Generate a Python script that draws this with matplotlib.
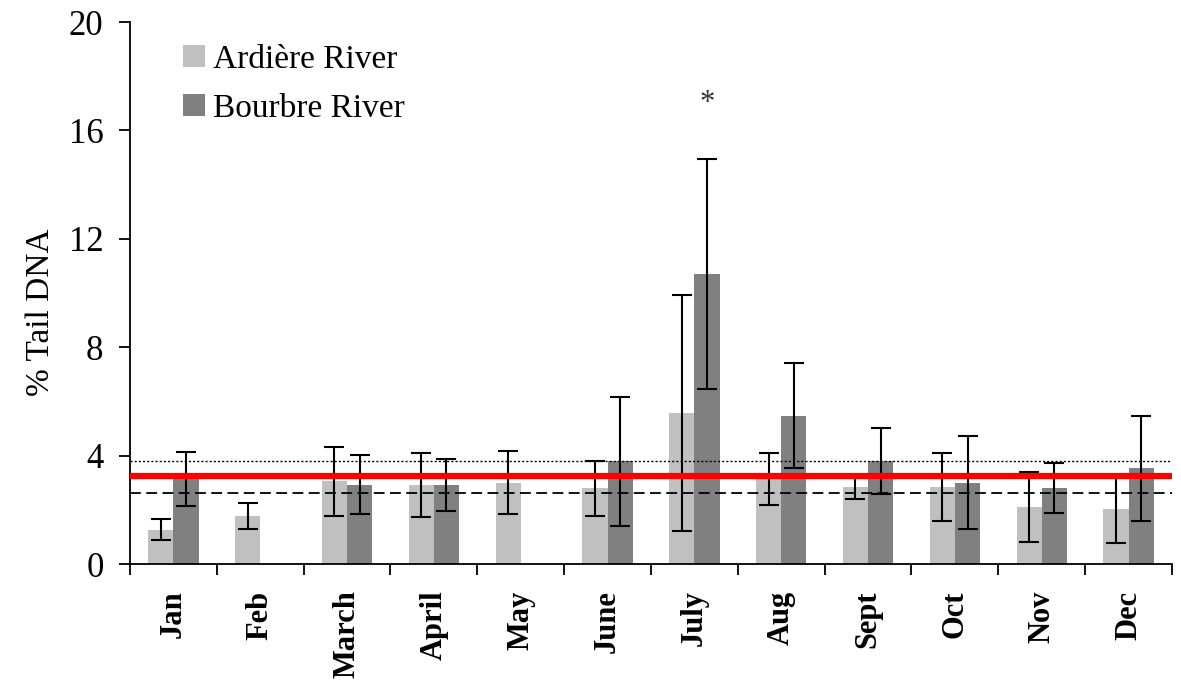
import numpy as np
import matplotlib
matplotlib.use("Agg")
import matplotlib.pyplot as plt
from matplotlib.patches import Patch

months = ["Jan", "Feb", "March", "April", "May", "June", "July", "Aug", "Sept", "Oct", "Nov", "Dec"]
ardiere = [1.27, 1.76, 3.06, 2.93, 3.0, 2.79, 5.56, 3.15, 2.85, 2.85, 2.1, 2.03]
ardiere_err = [0.38, 0.48, 1.27, 1.18, 1.17, 1.03, 4.35, 0.96, 0.45, 1.25, 1.28, 1.27]
bourbre = [3.14, np.nan, 2.93, 2.93, np.nan, 3.8, 10.71, 5.47, 3.8, 3.0, 2.79, 3.53]
bourbre_err = [1.0, np.nan, 1.1, 0.96, np.nan, 2.38, 4.24, 1.93, 1.23, 1.72, 0.92, 1.94]
red_line = 3.25
dotted_line = 3.8
dashed_line = 2.62
star_month = 6
star_y = 17.0

plt.rcParams['font.family'] = ['Liberation Serif', 'DejaVu Serif']

fig = plt.figure(figsize=(11.81, 6.84), dpi=100)
ax = fig.add_axes([0.110, 0.1754, 0.8824, 0.7924])

x = np.arange(len(months))
w = 0.29
ax.bar(x - w / 2, ardiere, w, color="#c0c0c0", zorder=2)
ax.bar(x + w / 2, bourbre, w, color="#808080", zorder=2)
ax.errorbar(x - w / 2, ardiere, yerr=ardiere_err, fmt="none", ecolor="black",
            elinewidth=1.5, capsize=7, capthick=1.5, zorder=3)
ax.errorbar(x + w / 2, bourbre, yerr=bourbre_err, fmt="none", ecolor="black",
            elinewidth=1.5, capsize=7, capthick=1.5, zorder=3)

ax.axhline(dotted_line, color="black", lw=1.0, linestyle=(0, (1.5, 1.5)), zorder=4)
ax.axhline(dashed_line, color="black", lw=1.3, linestyle=(0, (6, 3)), zorder=4)
ax.axhline(red_line, color="#ff0000", lw=4.5, zorder=5)

ax.text(star_month + w / 2, star_y, "*", ha="center", va="center", fontsize=22,
        color="#333333")

ax.set_xlim(-0.5, 11.5)
ax.set_ylim(0, 20)
ax.set_yticks([0, 4, 8, 12, 16, 20])
ax.tick_params(axis="y", labelsize=25, length=8, width=1.3, direction="out", pad=11)
ax.set_xticks(x)
ax.set_xticklabels(months, rotation=90, fontsize=22, fontweight="bold")
ax.tick_params(axis="x", which="major", length=0, pad=19)
ax.set_xticks(np.arange(-0.5, 12, 1), minor=True)
ax.tick_params(axis="x", which="minor", length=8, width=1.3, direction="out")
ax.set_ylabel("% Tail DNA", fontsize=24)
ax.yaxis.set_label_coords(-0.071, 0.465)

for s in ["top", "right"]:
    ax.spines[s].set_visible(False)
for s in ["left", "bottom"]:
    ax.spines[s].set_linewidth(1.3)

handles = [Patch(facecolor="#c0c0c0", label="Ardière River"),
           Patch(facecolor="#808080", label="Bourbre River")]
ax.legend(handles=handles, loc="upper left", bbox_to_anchor=((183 - 130) / 1042, 0.959),
          frameon=False, fontsize=24, handlelength=0.66, handleheight=0.66,
          handletextpad=0.24, labelspacing=0.56, borderpad=0, borderaxespad=0)

fig.savefig("out.png", dpi=100)
